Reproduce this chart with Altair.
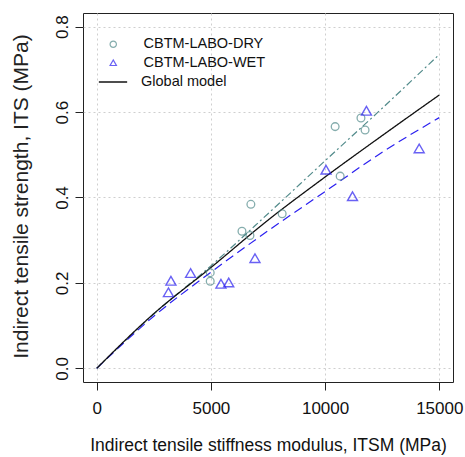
import altair as alt
import pandas as pd

# ---- data ----
dry_x = [6750, 6360, 6710, 8120, 4970, 4970, 10440, 11570, 11750, 10660]
dry_y = [0.384, 0.321, 0.311, 0.362, 0.224, 0.204, 0.566, 0.586, 0.558, 0.450]

wet_x = [3250, 3140, 4110, 5440, 5780, 6930, 11200, 10040, 11810, 14120]
wet_y = [0.205, 0.178, 0.223, 0.198, 0.201, 0.258, 0.403, 0.465, 0.603, 0.515]

model_x = [0, 2500, 5000, 7500, 10000, 12500, 15000]
global_y = [0, 0.128, 0.236, 0.347, 0.448, 0.545, 0.640]
dry_model_y = [0, 0.127, 0.240, 0.362, 0.486, 0.609, 0.735]
wet_model_y = [0, 0.122, 0.225, 0.322, 0.414, 0.506, 0.587]

x_ticks = [0, 5000, 10000, 15000]
y_ticks = [0.0, 0.2, 0.4, 0.6, 0.8]

DRY = "CBTM-LABO-DRY"
WET = "CBTM-LABO-WET"
GLOBAL = "Global model"

DRY_COL = "#528B8B"
WET_COL = "#2a1ff0"
FONT = "Liberation Sans"

W, H = 370, 369

pts = pd.DataFrame(
    {"x": dry_x + wet_x, "y": dry_y + wet_y,
     "series": [DRY] * len(dry_x) + [WET] * len(wet_x)}
)
dry_pts = pts[pts.series == DRY]
wet_pts = pts[pts.series == WET]

glob = pd.DataFrame({"x": model_x, "y": global_y, "lbl": [GLOBAL] * len(model_x)})
drym = pd.DataFrame({"x": model_x, "y": dry_model_y})
wetm = pd.DataFrame({"x": model_x, "y": wet_model_y})

xs = alt.Scale(domain=[-600, 15600], nice=False, zero=False)
ys = alt.Scale(domain=[-0.032, 0.832], nice=False, zero=False)

xax = alt.Axis(
    title="Indirect tensile stiffness modulus, ITSM (MPa)",
    values=x_ticks, format="d", tickSize=8, tickColor="#222", domain=False,
    grid=True, gridColor="#cfcfcf", gridDash=[2, 3], gridWidth=1,
    labelFont=FONT, labelFontSize=17, labelColor="#111", labelPadding=10,
    titleFont=FONT, titleFontSize=17.5, titleFontWeight="normal", titleColor="#111",
    titleY=68, titleBaseline="alphabetic",
)
yax = alt.Axis(
    title="Indirect tensile strength, ITS (MPa)",
    values=y_ticks, format=".1f", tickSize=8, tickColor="#222", domain=False,
    grid=True, gridColor="#cfcfcf", gridDash=[2, 3], gridWidth=1,
    labelFont=FONT, labelFontSize=17, labelColor="#111", labelAngle=270,
    labelAlign="center", labelBaseline="alphabetic", labelPadding=8,
    titleFont=FONT, titleFontSize=21, titleFontWeight="normal", titleColor="#222",
    titleX=-56, titleY=183, titleAngle=270, titleAlign="center", titleBaseline="alphabetic",
)

color_scale = alt.Scale(domain=[DRY, WET], range=[DRY_COL, WET_COL])
shape_scale = alt.Scale(domain=[DRY, WET], range=["circle", "triangle-up"])
pt_legend = alt.Legend(
    title=None, orient="none", legendX=23, legendY=24,
    labelFont=FONT, labelFontSize=14.5, labelColor="#111", labelOffset=23,
    symbolSize=40, symbolStrokeWidth=1.2, rowPadding=3.5, padding=0,
)

base_enc = dict(
    x=alt.X("x:Q", scale=xs, axis=xax),
    y=alt.Y("y:Q", scale=ys, axis=yax),
)

dry_layer = alt.Chart(dry_pts).mark_point(filled=False, size=60, strokeWidth=1.3).encode(
    **base_enc,
    color=alt.Color("series:N", scale=color_scale, legend=pt_legend),
    shape=alt.Shape("series:N", scale=shape_scale, legend=pt_legend),
)
wet_layer = alt.Chart(wet_pts).mark_point(filled=False, size=100, strokeWidth=1.4).encode(
    **base_enc,
    color=alt.Color("series:N", scale=color_scale, legend=pt_legend),
    shape=alt.Shape("series:N", scale=shape_scale, legend=pt_legend),
)

dry_line = alt.Chart(drym).mark_line(
    color=DRY_COL, strokeWidth=1.2, strokeDash=[7, 3, 2, 3], interpolate="monotone"
).encode(**base_enc)
wet_line = alt.Chart(wetm).mark_line(
    color=WET_COL, strokeWidth=1.2, strokeDash=[9, 5], interpolate="monotone"
).encode(**base_enc)
glob_line = alt.Chart(glob).mark_line(
    color="#111", strokeWidth=1.3, interpolate="monotone"
).encode(
    **base_enc,
    strokeDash=alt.StrokeDash(
        "lbl:N",
        scale=alt.Scale(domain=[GLOBAL], range=[[1, 0]]),
        legend=alt.Legend(
            title=None, orient="none", legendX=15, legendY=54,
            labelFont=FONT, labelFontSize=14.5, labelColor="#111", labelOffset=13,
            symbolType="stroke", symbolSize=800, symbolStrokeColor="#111",
            symbolStrokeWidth=1.3, padding=0,
        ),
    ),
)

chart = (
    alt.layer(dry_line, wet_line, glob_line, dry_layer, wet_layer)
    .resolve_legend(color="shared", shape="shared", strokeDash="independent")
    .properties(
        width=W, height=H,
        padding={"left": 83, "top": 13, "right": 12, "bottom": 75},
        autosize=alt.AutoSizeParams(type="none"),
        background="white",
    )
    .configure_view(stroke="#222", strokeWidth=1)
)

chart.save("out.html", embed_options={"renderer": "svg", "actions": False})
